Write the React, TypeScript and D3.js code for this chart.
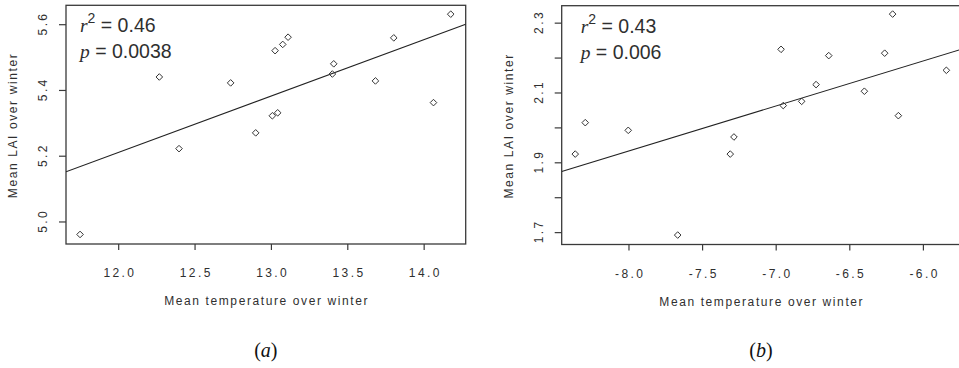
import React from "react";
import * as d3 from "d3";

// Panel (a)
const tempA = [12.266, 12.395, 12.733, 12.897, 13.006, 13.041, 13.024, 13.074, 13.109, 13.399, 13.408, 13.681, 13.801, 14.061, 14.174, 11.747];
const laiA = [5.441, 5.223, 5.423, 5.271, 5.323, 5.332, 5.521, 5.540, 5.562, 5.450, 5.481, 5.429, 5.560, 5.363, 5.632, 4.962];
const fitA = [3.155, 0.1714]; // intercept, slope
const xTicksA = [12.0, 12.5, 13.0, 13.5, 14.0];
const yTicksA = [5.0, 5.2, 5.4, 5.6];
const yLabelsA = [5.0, 5.2, 5.4, 5.6];
const statsA = ["0.46", "0.0038"];

// Panel (b)
const tempB = [-8.365, -8.297, -8.005, -7.312, -7.287, -6.967, -6.952, -6.827, -6.729, -6.643, -6.401, -6.263, -6.209, -6.170, -5.844, -7.669];
const laiB = [1.925, 2.015, 1.993, 1.925, 1.974, 2.225, 2.064, 2.076, 2.124, 2.207, 2.105, 2.214, 2.326, 2.035, 2.165, 1.693];
const fitB = [2.966, 0.129];
const xTicksB = [-8.0, -7.5, -7.0, -6.5, -6.0];
const yTicksB = [1.7, 1.8, 1.9, 2.0, 2.1, 2.2, 2.3];
const yLabelsB = [1.7, 1.9, 2.1, 2.3];
const statsB = ["0.43", "0.006"];

const xTitle = "Mean temperature over winter";
const yTitle = "Mean LAI over winter";

const SANS = "'Liberation Sans', Arial, sans-serif";
const SERIF = "'Liberation Serif', 'Times New Roman', serif";
const INK = "#2f2f2f";

const fmt = d3.formatLocale({ decimal: ".", thousands: ",", grouping: [3], currency: ["", ""], minus: "-" }).format(".1f");

type PanelProps = {
  id: string;
  xs: number[];
  ys: number[];
  fit: number[];
  xTicks: number[];
  yTicks: number[];
  yLabels: number[];
  stats: string[];
  xDomain: [number, number];
  yDomain: [number, number];
  left: number;
  right: number;
  top: number;
  bottom: number;
  annX: number;
  caption: string;
};

function Panel(p: PanelProps) {
  const x = d3.scaleLinear().domain(p.xDomain).range([p.left, p.right]);
  const y = d3.scaleLinear().domain(p.yDomain).range([p.bottom, p.top]);
  const fitLine = d3
    .line<number>()
    .x((d) => x(d))
    .y((d) => y(p.fit[0] + p.fit[1] * d));
  const cx = (p.left + p.right) / 2;
  const cy = (p.top + p.bottom) / 2;
  const r = 3.3;
  return (
    <g>
      <defs>
        <clipPath id={"clip" + p.id}>
          <rect x={p.left} y={p.top} width={p.right - p.left} height={p.bottom - p.top} />
        </clipPath>
      </defs>
      <rect x={p.left} y={p.top} width={p.right - p.left} height={p.bottom - p.top} fill="none" stroke="#3a3a3a" strokeWidth={1.3} />
      {p.xTicks.map((t) => (
        <g key={"xt" + t}>
          <line x1={x(t)} x2={x(t)} y1={p.bottom} y2={p.bottom + 6} stroke="#3a3a3a" strokeWidth={1.2} />
          <text x={x(t) + 1.2} y={p.bottom + 33} textAnchor="middle" fontFamily={SANS} fontSize={12} letterSpacing={2.4} fill={INK}>
            {fmt(t)}
          </text>
        </g>
      ))}
      {p.yTicks.map((t) => (
        <line key={"yt" + t} x1={p.left - 7} x2={p.left} y1={y(t)} y2={y(t)} stroke="#3a3a3a" strokeWidth={1.2} />
      ))}
      {p.yLabels.map((t) => (
        <text
          key={"yl" + t}
          transform={`translate(${p.left - 19},${y(t) - 1.2}) rotate(-90)`}
          textAnchor="middle"
          fontFamily={SANS}
          fontSize={12}
          letterSpacing={2.4}
          fill={INK}
        >
          {fmt(t)}
        </text>
      ))}
      <text x={cx + 0.8} y={p.bottom + 61} textAnchor="middle" fontFamily={SANS} fontSize={12} letterSpacing={1.6} fill={INK}>
        {xTitle}
      </text>
      <text transform={`translate(${p.left - 49},${cy + 0.8}) rotate(-90)`} textAnchor="middle" fontFamily={SANS} fontSize={12} letterSpacing={1.6} fill={INK}>
        {yTitle}
      </text>
      <path d={fitLine([p.xDomain[0], p.xDomain[1]]) || ""} clipPath={`url(#clip${p.id})`} fill="none" stroke="#222" strokeWidth={1.1} />
      {p.xs.map((v, i) => {
        const px = x(v);
        const py = y(p.ys[i]);
        return (
          <path
            key={"pt" + i}
            d={`M${px},${py - r}L${px + r},${py}L${px},${py + r}L${px - r},${py}Z`}
            fill="none"
            stroke="#333"
            strokeWidth={1}
          />
        );
      })}
      <text x={p.annX} y={p.top + 27} fontFamily={SANS} fontSize={19.5} fill={INK}>
        <tspan fontFamily={SERIF} fontStyle="italic">r</tspan>
        <tspan fontSize={14} dy={-9}>2</tspan>
        <tspan dy={9}>{" = " + p.stats[0]}</tspan>
      </text>
      <text x={p.annX} y={p.top + 53} fontFamily={SANS} fontSize={19.5} fill={INK}>
        <tspan fontFamily={SERIF} fontStyle="italic">p</tspan>
        <tspan>{" = " + p.stats[1]}</tspan>
      </text>
      <text x={cx} y={357} textAnchor="middle" fontFamily={SERIF} fontSize={20} fill="#111">
        <tspan>(</tspan>
        <tspan fontStyle="italic">{p.caption}</tspan>
        <tspan>)</tspan>
      </text>
    </g>
  );
}

export default function App() {
  return (
    <div>
      <style>{"body{margin:0;background:#fff}"}</style>
      <svg width={959} height={368} style={{ display: "block" }}>
        <rect width={959} height={368} fill="#fff" />
        <Panel
          id="a"
          xs={tempA}
          ys={laiA}
          fit={fitA}
          xTicks={xTicksA}
          yTicks={yTicksA}
          yLabels={yLabelsA}
          stats={statsA}
          xDomain={[11.655, 14.272]}
          yDomain={[4.933, 5.659]}
          left={66}
          right={465.7}
          top={5.3}
          bottom={244}
          annX={80}
          caption="a"
        />
        <Panel
          id="b"
          xs={tempB}
          ys={laiB}
          fit={fitB}
          xTicks={xTicksB}
          yTicks={yTicksB}
          yLabels={yLabelsB}
          stats={statsB}
          xDomain={[-8.457, -5.75]}
          yDomain={[1.666, 2.35]}
          left={561.7}
          right={960.2}
          top={5.7}
          bottom={244.5}
          annX={580.7}
          caption="b"
        />
      </svg>
    </div>
  );
}
